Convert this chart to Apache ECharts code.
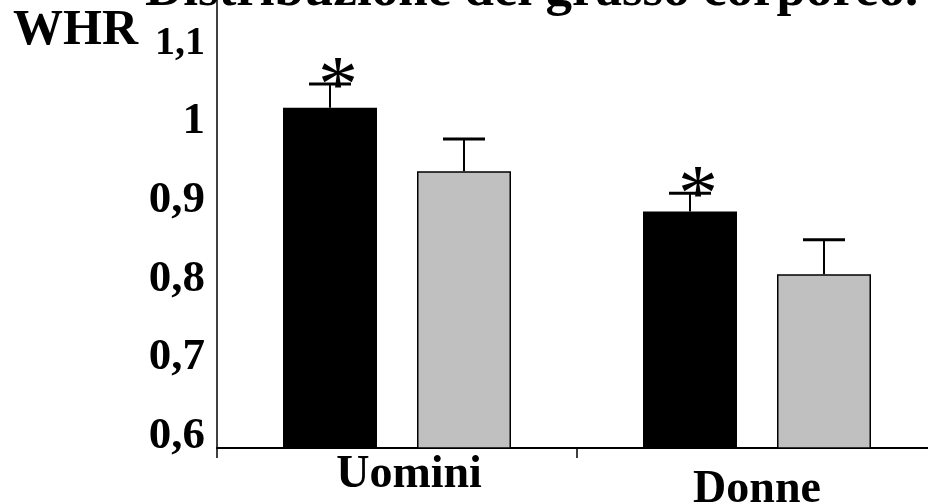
<!DOCTYPE html>
<html>
<head>
<meta charset="utf-8">
<script src="https://cdn.jsdelivr.net/npm/echarts@6/dist/echarts.min.js"></script>
<style>
  html, body { margin: 0; padding: 0; background: #fff; }
  #chart { width: 928px; height: 504px; }
</style>
</head>
<body>
<div id="chart"></div>
<script>
// WHR per sesso: due gruppi di barre con errore standard
const categories = ['Uomini', 'Donne'];
const blackValues = [1.018, 0.886];
const blackErrors = [0.030, 0.023];
const blackMarks = ['*', '*'];
const greyValues = [0.937, 0.806];
const greyErrors = [0.041, 0.044];
const greyMarks = ['', ''];
const yTickValues = [0.6, 0.7, 0.8, 0.9, 1.0, 1.1];
const yTickLabels = ['0,6', '0,7', '0,8', '0,9', '1', '1,1'];

const FONT = "'Liberation Serif', 'Times New Roman', serif";
const BAR_W = 94;
const BAR_GAP = 40;
const HALF_STEP = (BAR_W + BAR_GAP) / 2;

function errorSeries(values, errors, marks, offset) {
  return {
    type: 'custom',
    z: 5,
    data: values.map((v, i) => [i, v, errors[i]]),
    encode: { x: 0, y: 1 },
    renderItem: function (params, api) {
      const top = api.coord([api.value(0), api.value(1)]);
      const cap = api.coord([api.value(0), api.value(1) + api.value(2)]);
      const x = top[0] + offset;
      const children = [
        { type: 'line', shape: { x1: x, y1: top[1], x2: x, y2: cap[1] },
          style: { stroke: '#000', lineWidth: 2 } },
        { type: 'line', shape: { x1: x - 21, y1: cap[1], x2: x + 21, y2: cap[1] },
          style: { stroke: '#000', lineWidth: 3 } }
      ];
      const mark = marks[params.dataIndex];
      if (mark) {
        children.push({
          type: 'text',
          style: {
            text: mark, x: x + 8, y: cap[1] + 6,
            fill: '#000', font: '80px ' + FONT,
            align: 'center', verticalAlign: 'middle'
          }
        });
      }
      return { type: 'group', children: children };
    }
  };
}

const chart = echarts.init(document.getElementById('chart'));
chart.setOption({
  animation: false,
  backgroundColor: '#fff',
  title: [
    {
      text: 'Distribuzione del grasso corporeo.',
      left: 140, top: -40,
      textStyle: { fontFamily: FONT, fontWeight: 'bold', fontSize: 53, color: '#000' }
    },
    {
      text: 'WHR',
      left: 8, top: 1,
      textStyle: { fontFamily: FONT, fontWeight: 'bold', fontSize: 50, color: '#000' }
    }
  ],
  grid: { left: 217, top: 0, width: 720, height: 448, containLabel: false, outerBoundsMode: 'none' },
  xAxis: {
    type: 'category',
    data: [
      { value: categories[0], textStyle: { padding: [0, 0, 0, 24] } },
      { value: categories[1], textStyle: { padding: [15, 0, 0, 0] } }
    ],
    axisLine: { lineStyle: { color: '#000', width: 2 } },
    axisTick: { show: true, length: 10, lineStyle: { color: '#000', width: 1.5 } },
    axisLabel: { color: '#000', fontFamily: FONT, fontWeight: 'bold', fontSize: 46, margin: 4 }
  },
  yAxis: {
    type: 'value',
    min: 0.585,
    max: 1.155,
    interval: 0.005,
    axisLine: { show: true, lineStyle: { color: '#000', width: 1.5 } },
    axisTick: { show: false },
    splitLine: { show: false },
    axisLabel: {
      color: '#000', fontFamily: FONT, fontWeight: 'bold', fontSize: 45, margin: 12,
      showMinLabel: false, showMaxLabel: false,
      formatter: function (v) {
        const idx = yTickValues.findIndex(t => Math.abs(t - v) < 1e-6);
        if (idx < 0) return '';
        return idx === yTickValues.length - 1 ? '{s|' + yTickLabels[idx] + '}' : yTickLabels[idx];
      },
      rich: { s: { fontFamily: FONT, fontWeight: 'bold', fontSize: 40, color: '#000' } }
    }
  },
  series: [
    {
      name: 'Gruppo 1', type: 'bar', data: blackValues,
      barWidth: BAR_W, barGap: (BAR_GAP / BAR_W * 100) + '%',
      itemStyle: { color: '#000', borderColor: '#000', borderWidth: 1.5 }
    },
    {
      name: 'Gruppo 2', type: 'bar', data: greyValues,
      barWidth: BAR_W,
      itemStyle: { color: '#c0c0c0', borderColor: '#000', borderWidth: 1.5 }
    },
    errorSeries(blackValues, blackErrors, blackMarks, -HALF_STEP),
    errorSeries(greyValues, greyErrors, greyMarks, HALF_STEP)
  ]
});
</script>
</body>
</html>
